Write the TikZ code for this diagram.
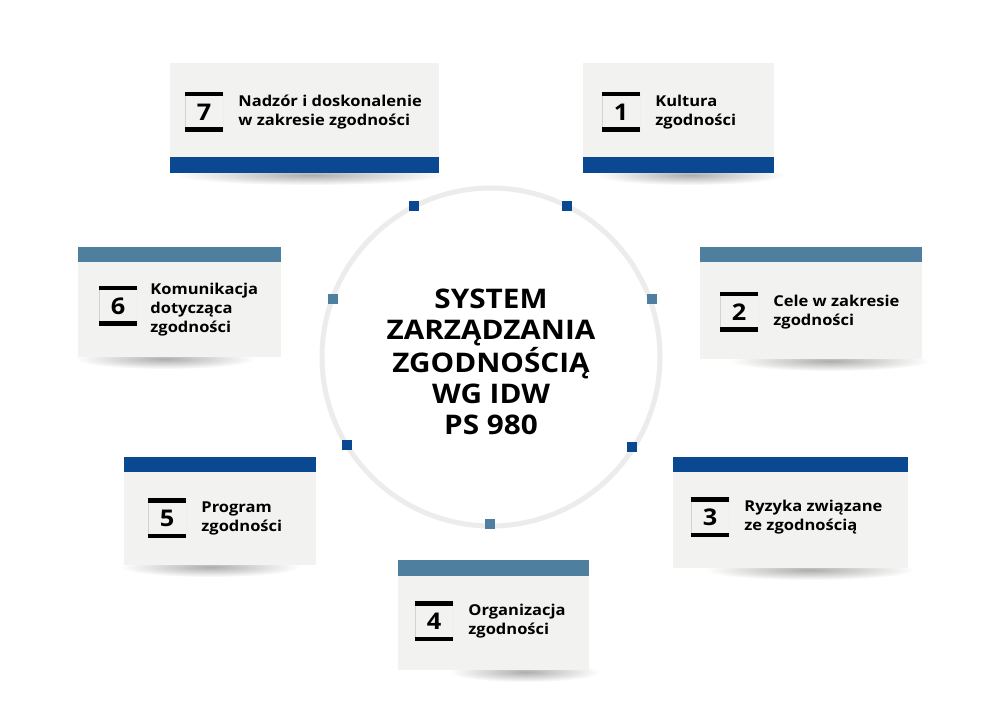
\documentclass[tikz,border=0pt]{standalone}
\usepackage{fontspec}
\setmainfont{Open Sans}[FakeStretch=1.1]
\usetikzlibrary{positioning}
\definecolor{dkblue}{HTML}{0A4891}
\definecolor{stblue}{HTML}{4E7F9E}
\definecolor{cardgray}{HTML}{F2F2F0}
\definecolor{ringgray}{HTML}{ECECEC}
\begin{document}
\begin{tikzpicture}[x=1pt,y=-1pt,
    card/.style={rectangle,fill=cardgray,anchor=north west,inner sep=0pt},
    numbox/.style={rectangle,minimum width=38pt,minimum height=39pt,inner sep=0pt,
        font=\bfseries\fontsize{23}{23}\selectfont,
        path picture={
          \draw[gray!35,line width=1pt] (path picture bounding box.north west) -- (path picture bounding box.south west)
                (path picture bounding box.north east) -- (path picture bounding box.south east);
          \draw[line width=8pt] (path picture bounding box.north west) -- (path picture bounding box.north east)
                (path picture bounding box.south west) -- (path picture bounding box.south east);}},
    cardtext/.style={align=left,inner sep=2pt,font=\bfseries\fontsize{15}{19}\selectfont},
    dot/.style={rectangle,minimum size=10pt,inner sep=0pt},
    cardshadow/.style={inner color=black!32,outer color=white}]
    \useasboundingbox[fill=white] (0,0) rectangle (996,719);
    % ring in the middle
    \draw[ringgray,line width=5pt] (491,357) circle[radius=169pt];
    \node[align=center,font=\bfseries\fontsize{27}{31}\selectfont] (title) at (491,362)
        {SYSTEM\\ZARZĄDZANIA\\ZGODNOŚCIĄ\\WG IDW\\PS 980};
    \node[dot,fill=dkblue] (d1) at (567,206) {};
    \node[dot,fill=stblue] (d2) at (652,299) {};
    \node[dot,fill=dkblue] (d3) at (632,447) {};
    \node[dot,fill=stblue] (d4) at (490,524) {};
    \node[dot,fill=dkblue] (d5) at (347,445) {};
    \node[dot,fill=stblue] (d6) at (333,299) {};
    \node[dot,fill=dkblue] (d7) at (414,206) {};
    % shadows under the cards
    \shade[cardshadow] (690,175) ellipse[x radius=95pt,y radius=10pt];
    \shade[cardshadow] (830,361) ellipse[x radius=100pt,y radius=10pt];
    \shade[cardshadow] (810,570) ellipse[x radius=105pt,y radius=10pt];
    \shade[cardshadow] (525,672) ellipse[x radius=75pt,y radius=10pt];
    \shade[cardshadow] (210,567) ellipse[x radius=90pt,y radius=10pt];
    \shade[cardshadow] (165,359) ellipse[x radius=90pt,y radius=10pt];
    \shade[cardshadow] (310,175) ellipse[x radius=135pt,y radius=10pt];
    % 1
    \node[card,minimum width=191pt,minimum height=110pt] (c1) at (583,63) {};
    \fill[dkblue] (c1.south west) rectangle ([yshift=16pt]c1.south east);
    \node[numbox] (n1) at (621,112) {1};
    \node[cardtext,right=13pt of n1] (t1) {Kultura\\zgodności};
    % 2
    \node[card,minimum width=222pt,minimum height=112pt] (c2) at (700,247) {};
    \fill[stblue] (c2.north west) rectangle ([yshift=-15pt]c2.north east);
    \node[numbox] (n2) at (739,312) {2};
    \node[cardtext,right=13pt of n2] (t2) {Cele w zakresie\\zgodności};
    % 3
    \node[card,minimum width=235pt,minimum height=111pt] (c3) at (673,457) {};
    \fill[dkblue] (c3.north west) rectangle ([yshift=-15pt]c3.north east);
    \node[numbox] (n3) at (710,517) {3};
    \node[cardtext,right=13pt of n3] (t3) {Ryzyka związane\\ze zgodnością};
    % 4
    \node[card,minimum width=191pt,minimum height=110pt] (c4) at (398,560) {};
    \fill[stblue] (c4.north west) rectangle ([yshift=-16pt]c4.north east);
    \node[numbox] (n4) at (434,621) {4};
    \node[cardtext,right=13pt of n4] (t4) {Organizacja\\zgodności};
    % 5
    \node[card,minimum width=192pt,minimum height=108pt] (c5) at (124,457) {};
    \fill[dkblue] (c5.north west) rectangle ([yshift=-15pt]c5.north east);
    \node[numbox] (n5) at (167,518) {5};
    \node[cardtext,right=13pt of n5] (t5) {Program\\zgodności};
    % 6
    \node[card,minimum width=203pt,minimum height=110pt] (c6) at (78,247) {};
    \fill[stblue] (c6.north west) rectangle ([yshift=-15pt]c6.north east);
    \node[numbox] (n6) at (118,306) {6};
    \node[cardtext,right=11pt of n6,yshift=-4pt] (t6) {Komunikacja\\dotycząca\\zgodności};
    % 7
    \node[card,minimum width=269pt,minimum height=110pt] (c7) at (170,63) {};
    \fill[dkblue] (c7.south west) rectangle ([yshift=16pt]c7.south east);
    \node[numbox] (n7) at (204,112) {7};
    \node[cardtext,right=13pt of n7] (t7) {Nadzór i doskonalenie\\w zakresie zgodności};
\end{tikzpicture}
\end{document}
